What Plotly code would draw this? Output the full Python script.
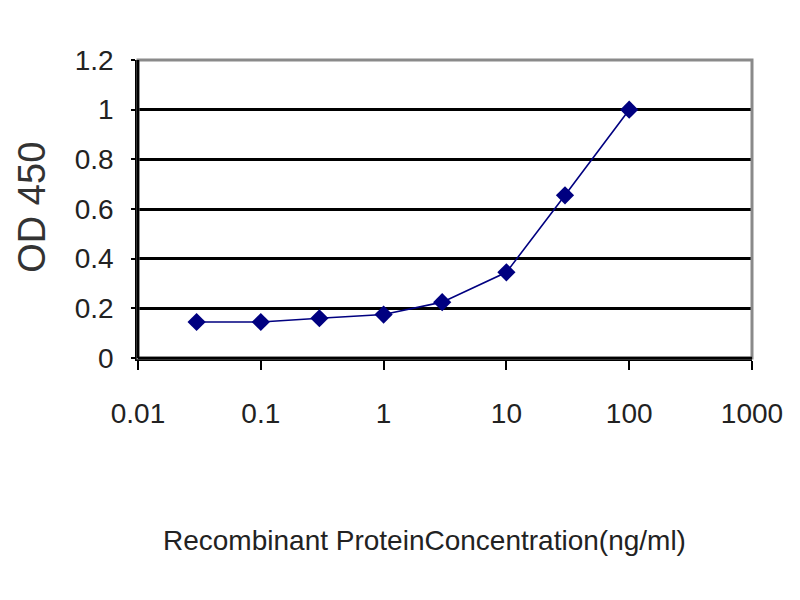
import plotly.graph_objects as go

# concentration (ng/ml) and OD 450 readings
conc = [0.03, 0.1, 0.3, 1, 3, 10, 30, 100]
od450 = [0.145, 0.145, 0.16, 0.175, 0.225, 0.345, 0.655, 1.0]

x_ticks = [0.01, 0.1, 1, 10, 100, 1000]
x_labels = ["0.01", "0.1", "1", "10", "100", "1000"]
y_ticks = [0, 0.2, 0.4, 0.6, 0.8, 1, 1.2]
y_labels = ["0", "0.2", "0.4", "0.6", "0.8", "1", "1.2"]

sans = "Liberation Sans, Arial"

fig = go.Figure()
fig.add_trace(go.Scatter(
    x=conc, y=od450, mode="lines+markers",
    line=dict(color="#000080", width=1.6),
    marker=dict(symbol="diamond", size=14, color="#000080"),
    showlegend=False))

fig.update_layout(
    width=800, height=600,
    margin=dict(l=130, r=56, t=52, b=250),
    paper_bgcolor="white", plot_bgcolor="white",
    font=dict(family=sans, color="#222222"),
    xaxis=dict(type="log", range=[-2, 3],
               tickvals=x_ticks, ticktext=x_labels,
               tickfont=dict(size=28, family=sans),
               ticks="outside", ticklen=9, tickwidth=2, tickcolor="black",
               ticklabelstandoff=20,
               showline=True, linecolor="black", linewidth=2.5,
               showgrid=False, zeroline=False),
    yaxis=dict(range=[0, 1.2],
               tickvals=y_ticks, ticktext=y_labels,
               tickfont=dict(size=28, family=sans),
               ticks="outside", ticklen=4, tickwidth=2, tickcolor="black",
               ticklabelstandoff=12,
               showline=True, linecolor="black", linewidth=2.5,
               showgrid=True, gridcolor="black", gridwidth=2.5,
               zeroline=False),
    shapes=[dict(type="rect", xref="paper", yref="paper",
                 x0=0, x1=1, y0=0, y1=1, layer="above",
                 line=dict(color="#8a8a8a", width=3))],
    annotations=[
        dict(text="Recombinant ProteinConcentration(ng/ml)",
             xref="paper", yref="paper", x=0.466, y=-0.611,
             xanchor="center", yanchor="middle", showarrow=False,
             font=dict(size=28, family=sans, color="#222222")),
        dict(text="OD 450", textangle=-90,
             xref="paper", yref="paper", x=-0.173, y=0.507,
             xanchor="center", yanchor="middle", showarrow=False,
             font=dict(size=38, family=sans, color="#333333")),
    ],
)

# left and bottom axis lines in black over the gray frame
fig.add_shape(type="line", xref="paper", yref="paper", x0=0, x1=0, y0=0, y1=1,
              line=dict(color="black", width=2.5), layer="above")
fig.add_shape(type="line", xref="paper", yref="paper", x0=0, x1=1, y0=0, y1=0,
              line=dict(color="black", width=2.5), layer="above")

fig.write_html("out.html")
